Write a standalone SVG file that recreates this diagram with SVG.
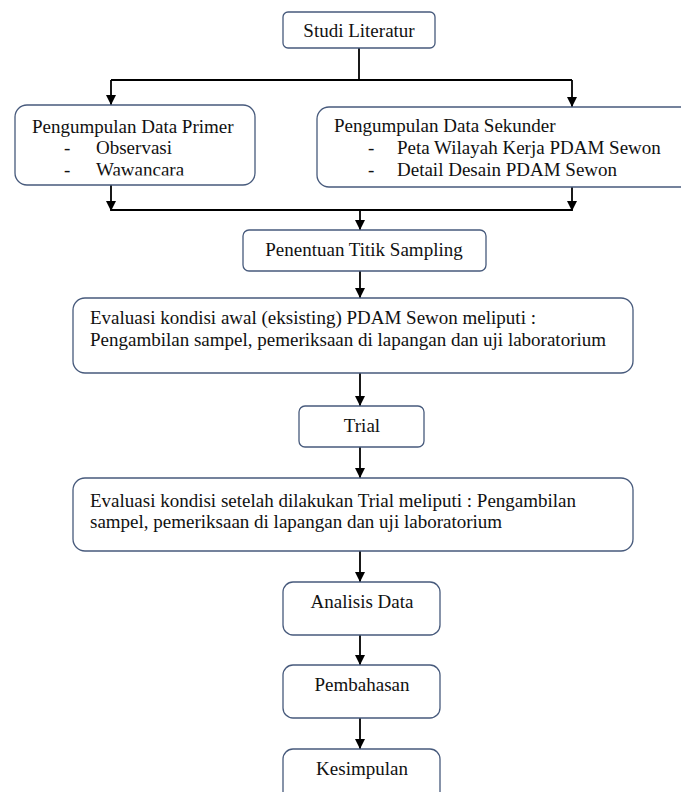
<svg xmlns="http://www.w3.org/2000/svg" width="681" height="792" viewBox="0 0 681 792">
<style>
.box{fill:#ffffff;stroke:#475a7c;stroke-width:1.3}
.t{font-family:'Liberation Serif','Times New Roman',serif;font-size:19px;fill:#111}
.c{text-anchor:middle}
.ln{fill:none;stroke:#000;stroke-width:1.8}
</style>
<defs>
<marker id="ah" markerUnits="userSpaceOnUse" markerWidth="11" markerHeight="10" refX="10" refY="5" orient="auto" viewBox="0 0 11 10">
<path d="M0,0 L10,5 L0,10 Z" fill="#000"/>
</marker>
<clipPath id="clipPrimer"><rect x="15" y="105" width="240" height="70.5"/></clipPath>
</defs>
<rect width="681" height="792" fill="#ffffff"/>
<g id="connectors">
<path class="ln" d="M359,48 V80"/>
<path class="ln" d="M111,80 H572"/>
<line class="ln" x1="111" y1="80" x2="111" y2="105" marker-end="url(#ah)"/>
<line class="ln" x1="572" y1="80" x2="572" y2="107" marker-end="url(#ah)"/>
<line class="ln" x1="111" y1="185" x2="111" y2="211" marker-end="url(#ah)"/>
<line class="ln" x1="572" y1="187" x2="572" y2="211" marker-end="url(#ah)"/>
<path class="ln" d="M111,210 H572"/>
<line class="ln" x1="360" y1="210" x2="360" y2="230" marker-end="url(#ah)"/>
<line class="ln" x1="360" y1="271" x2="360" y2="298" marker-end="url(#ah)"/>
<line class="ln" x1="360" y1="373" x2="360" y2="406" marker-end="url(#ah)"/>
<line class="ln" x1="360" y1="447" x2="360" y2="478" marker-end="url(#ah)"/>
<line class="ln" x1="360" y1="551" x2="360" y2="582" marker-end="url(#ah)"/>
<line class="ln" x1="360" y1="635" x2="360" y2="665" marker-end="url(#ah)"/>
<line class="ln" x1="360" y1="718" x2="360" y2="749" marker-end="url(#ah)"/>
</g>
<g id="studi">
<rect class="box" x="283" y="12" width="152" height="36" rx="5"/>
<text class="t c" x="359" y="37">Studi Literatur</text>
</g>
<g id="primer">
<rect class="box" x="15" y="105" width="240" height="80" rx="12"/>
<text class="t" x="32" y="133">Pengumpulan Data Primer</text>
<text class="t" x="64" y="154">-</text>
<text class="t" x="96" y="154">Observasi</text>
<g clip-path="url(#clipPrimer)">
<text class="t" x="64" y="176">-</text>
<text class="t" x="96" y="176">Wawancara</text>
</g>
</g>
<g id="sekunder">
<rect class="box" x="317" y="107" width="380" height="80" rx="12"/>
<text class="t" x="334" y="132">Pengumpulan Data Sekunder</text>
<text class="t" x="368" y="154">-</text>
<text class="t" x="397" y="154">Peta Wilayah Kerja PDAM Sewon</text>
<text class="t" x="368" y="176">-</text>
<text class="t" x="397" y="176">Detail Desain PDAM Sewon</text>
</g>
<g id="penentuan">
<rect class="box" x="243" y="230" width="243" height="41" rx="6"/>
<text class="t c" x="364" y="256">Penentuan Titik Sampling</text>
</g>
<g id="evaluasi-awal">
<rect class="box" x="73" y="298" width="560" height="75" rx="12"/>
<text class="t" x="90" y="324">Evaluasi kondisi awal (eksisting) PDAM Sewon meliputi :</text>
<text class="t" x="90" y="346">Pengambilan sampel, pemeriksaan di lapangan dan uji laboratorium</text>
</g>
<g id="trial">
<rect class="box" x="299" y="406" width="125" height="41" rx="6"/>
<text class="t c" x="362" y="432">Trial</text>
</g>
<g id="evaluasi-trial">
<rect class="box" x="73" y="478" width="560" height="73" rx="12"/>
<text class="t" x="90" y="507">Evaluasi kondisi setelah dilakukan Trial meliputi : Pengambilan</text>
<text class="t" x="90" y="528">sampel, pemeriksaan di lapangan dan uji laboratorium</text>
</g>
<g id="analisis">
<rect class="box" x="283" y="582" width="157" height="53" rx="10"/>
<text class="t c" x="362" y="608">Analisis Data</text>
</g>
<g id="pembahasan">
<rect class="box" x="283" y="665" width="157" height="53" rx="10"/>
<text class="t c" x="362" y="691">Pembahasan</text>
</g>
<g id="kesimpulan">
<rect class="box" x="283" y="749" width="157" height="60" rx="10"/>
<text class="t c" x="362" y="775">Kesimpulan</text>
</g>
</svg>
